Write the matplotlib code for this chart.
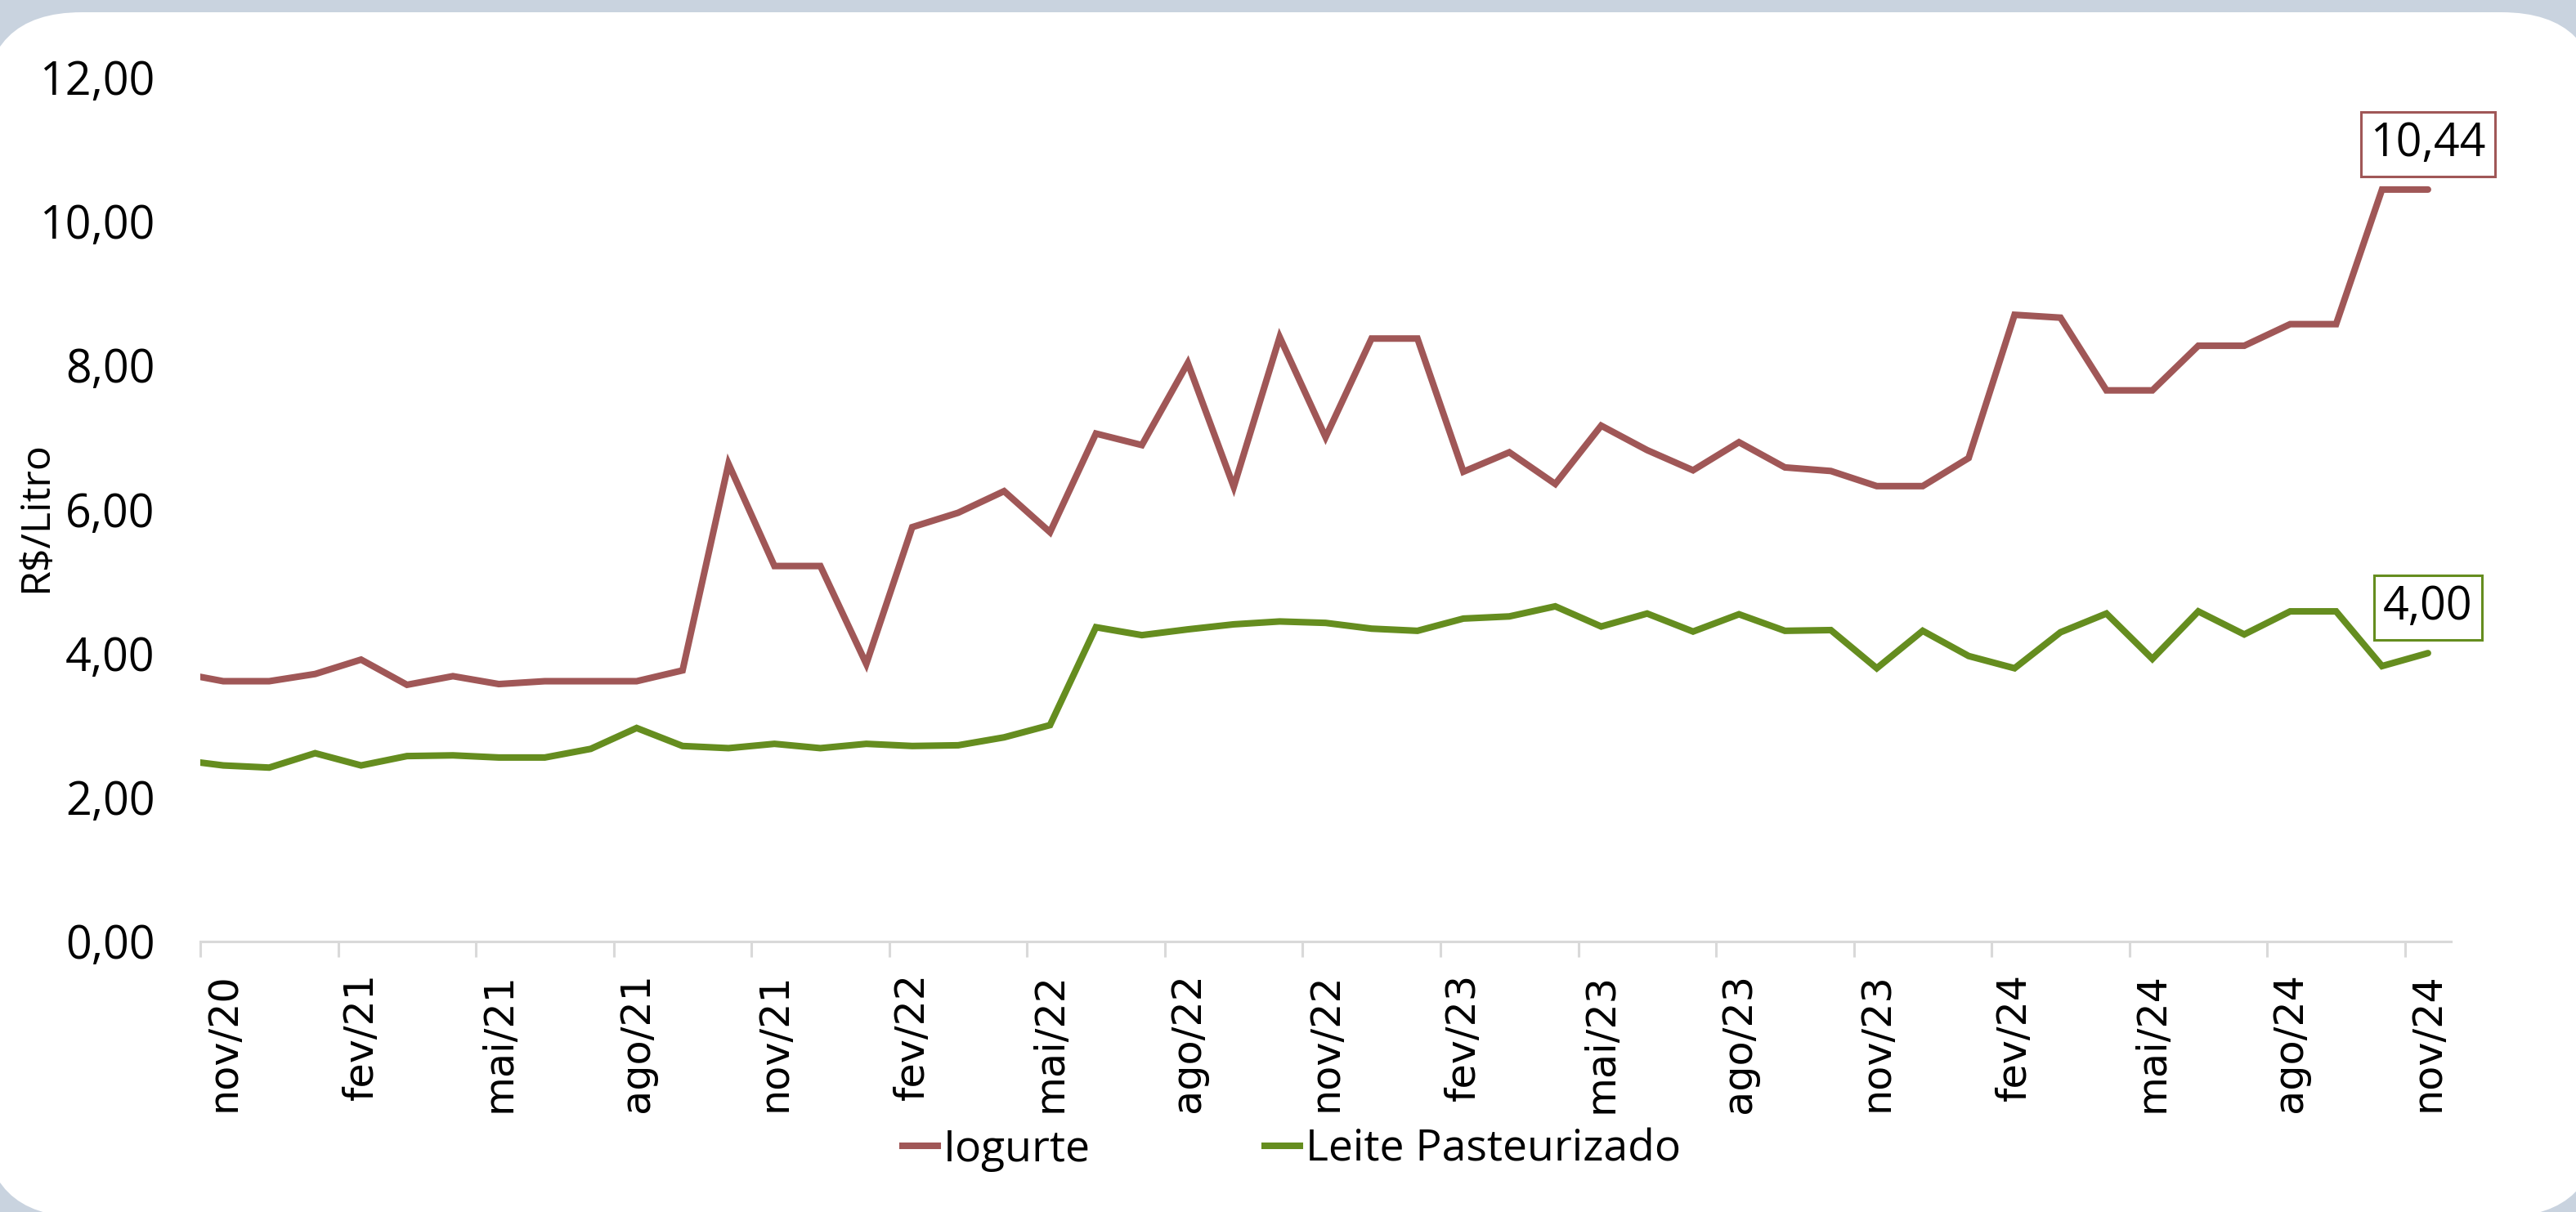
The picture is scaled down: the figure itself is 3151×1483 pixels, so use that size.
import matplotlib
matplotlib.use("Agg")
import matplotlib.pyplot as plt
from matplotlib import font_manager
from matplotlib.patches import FancyBboxPatch
from matplotlib.transforms import Affine2D
from matplotlib.lines import Line2D

# ---------------- data ----------------
months = ["out/20",
          "nov/20", "dez/20", "jan/21", "fev/21", "mar/21", "abr/21", "mai/21", "jun/21",
          "jul/21", "ago/21", "set/21", "out/21", "nov/21", "dez/21", "jan/22", "fev/22",
          "mar/22", "abr/22", "mai/22", "jun/22", "jul/22", "ago/22", "set/22", "out/22",
          "nov/22", "dez/22", "jan/23", "fev/23", "mar/23", "abr/23", "mai/23", "jun/23",
          "jul/23", "ago/23", "set/23", "out/23", "nov/23", "dez/23", "jan/24", "fev/24",
          "mar/24", "abr/24", "mai/24", "jun/24", "jul/24", "ago/24", "set/24", "out/24",
          "nov/24"]

iogurte = [3.73,
           3.61, 3.61, 3.71, 3.91, 3.56, 3.68, 3.57, 3.61,
           3.61, 3.61, 3.76, 6.63, 5.21, 5.21, 3.85, 5.75,
           5.95, 6.25, 5.68, 7.05, 6.89, 8.03, 6.31, 8.39,
           7.00, 8.37, 8.37, 6.52, 6.79, 6.35, 7.16, 6.82,
           6.54, 6.93, 6.58, 6.53, 6.32, 6.32, 6.71, 8.70,
           8.66, 7.65, 7.65, 8.27, 8.27, 8.57, 8.57, 10.44,
           10.44]

leite = [2.52,
         2.44, 2.41, 2.61, 2.44, 2.57, 2.58, 2.55, 2.55,
         2.67, 2.96, 2.71, 2.68, 2.74, 2.68, 2.74, 2.71,
         2.72, 2.83, 3.00, 4.36, 4.25, 4.33, 4.40, 4.44,
         4.42, 4.34, 4.31, 4.48, 4.51, 4.65, 4.37, 4.55,
         4.30, 4.54, 4.31, 4.32, 3.79, 4.31, 3.96, 3.79,
         4.29, 4.55, 3.92, 4.58, 4.26, 4.58, 4.58, 3.82,
         4.00]

series_names = ["Iogurte", "Leite Pasteurizado"]
yticks = [0, 2, 4, 6, 8, 10, 12]
last_labels = ["10,44", "4,00"]

# ---------------- style ----------------
RED = "#A05757"
GREEN = "#658D1F"
BG = "#C9D3DF"

avail = {f.name for f in font_manager.fontManager.ttflist}
NARROW = "Liberation Sans Narrow" if "Liberation Sans Narrow" in avail else "Open Sans"

W, H = 3151, 1483
fig = plt.figure(figsize=(W / 100, H / 100), dpi=100)
fig.patch.set_facecolor(BG)

# white rounded panel (pixel coords, y up)
pix = Affine2D().scale(1 / W, 1 / H) + fig.transFigure
panel = FancyBboxPatch((-20, -6), 3200, 1474,
                       boxstyle="round,pad=0,rounding_size=120",
                       facecolor="white", edgecolor="none", transform=pix, zorder=0)
fig.add_artist(panel)

ax = fig.add_axes([245 / W, 1 - 1151.5 / H, (2998 - 245) / W, (1151.5 - 94.5) / H])
ax.set_facecolor("none")

x = list(range(-1, len(months) - 1))
ax.plot(x, iogurte, color=RED, lw=5.8, solid_joinstyle="miter", solid_capstyle="round", zorder=3)
ax.plot(x, leite, color=GREEN, lw=5.8, solid_joinstyle="miter", solid_capstyle="round", zorder=3)

ax.set_xlim(-0.5, len(months) - 1.5)
ax.set_ylim(0, 12)

for s in ["top", "right", "left"]:
    ax.spines[s].set_visible(False)
ax.spines["bottom"].set_color("#D9D9D9")
ax.spines["bottom"].set_linewidth(2.2)

ax.set_yticks(yticks)
ax.set_yticklabels([f"{v:.2f}".replace(".", ",") for v in yticks],
                   fontfamily=NARROW, fontsize=40)
ax.tick_params(axis="y", length=0, pad=40)

major = list(range(0, len(months) - 1, 3))
ax.set_xticks(major)
ax.set_xticklabels([months[i + 1] for i in major], rotation=90,
                   fontfamily="DejaVu Sans", fontsize=35.5)
ax.tick_params(axis="x", which="major", length=0, pad=28)
ax.set_xticks([m - 0.5 for m in major], minor=True)
ax.tick_params(axis="x", which="minor", length=14, width=2.2, color="#D9D9D9")

# end-value labels
for vals, col, txt in [(iogurte, RED, last_labels[0]), (leite, GREEN, last_labels[1])]:
    ax.annotate(txt, xy=(x[-1], vals[-1]), xytext=(0, 40), textcoords="offset points",
                ha="center", va="center", fontfamily=NARROW, fontsize=40,
                bbox=dict(boxstyle="square,pad=0.2", fc="white", ec=col, lw=2.2),
                zorder=5, annotation_clip=False)

fig.text(44 / W, 1 - 633 / H, "R$/Litro", rotation=90, ha="center", va="center",
         fontfamily="Open Sans", fontsize=36)

handles = [Line2D([], [], color=RED, lw=5.8), Line2D([], [], color=GREEN, lw=5.8)]
leg = fig.legend(handles, series_names, loc="center", bbox_to_anchor=(1580 / W, 1 - 1407 / H),
                 ncol=2, frameon=False, prop={"family": NARROW, "size": 38.5},
                 handlelength=0.8, handletextpad=0.12, columnspacing=4.0)

fig.savefig("out.png", dpi=100, facecolor=BG)
